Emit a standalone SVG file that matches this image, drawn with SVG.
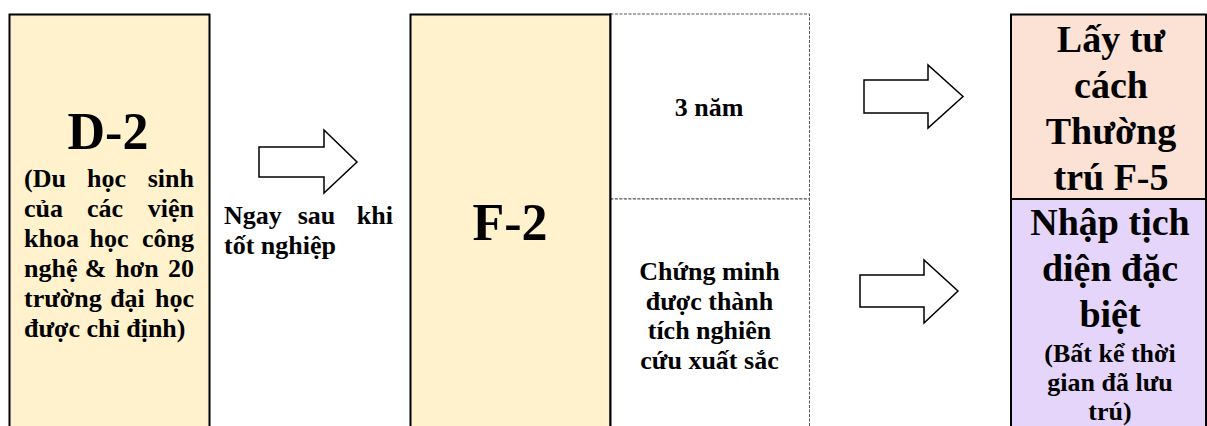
<svg xmlns="http://www.w3.org/2000/svg" width="1207" height="426" viewBox="0 0 1207 426">
<style>
text{font-family:"Liberation Serif","Times New Roman",serif;font-weight:bold;fill:#000}
.big{font-size:52px}
.mid{font-size:38px}
.sm{font-size:26px}
.c{text-anchor:middle}
.e{text-anchor:end}
.box{stroke:#000;stroke-width:2}
.dash{fill:#fff;stroke:#555;stroke-width:1;stroke-dasharray:3 1.5}
.arrow{fill:#fff;stroke:#000;stroke-width:1.5;stroke-linejoin:miter}
</style>
<rect width="1207" height="426" fill="#fff"/>
<g id="node-d2">
<rect class="box" x="9.5" y="14.5" width="200" height="430" fill="#FFF2CC"/>
<text class="big c" x="108" y="149">D-2</text>
<text class="sm" y="187"><tspan x="24">(Du</tspan><tspan class="c" x="106.5">học</tspan><tspan class="e" x="194">sinh</tspan></text>
<text class="sm" y="217"><tspan x="24">của</tspan><tspan class="c" x="105">các</tspan><tspan class="e" x="194">viện</tspan></text>
<text class="sm" y="247"><tspan x="24">khoa</tspan><tspan class="c" x="109">học</tspan><tspan class="e" x="194">công</tspan></text>
<text class="sm" y="277"><tspan x="24">nghệ</tspan><tspan class="c" x="95.5">&amp;</tspan><tspan class="c" x="137">hơn</tspan><tspan class="e" x="194">20</tspan></text>
<text class="sm" y="307"><tspan x="24">trường</tspan><tspan class="c" x="127.5">đại</tspan><tspan class="e" x="194">học</tspan></text>
<text class="sm" x="24" y="337">được chỉ định)</text>
</g>
<g id="label-graduation">
<text class="sm" y="224"><tspan x="224">Ngay</tspan><tspan class="c" x="316.5">sau</tspan><tspan class="e" x="393">khi</tspan></text>
<text class="sm" x="224" y="254">tốt nghiệp</text>
</g>
<g id="node-f2">
<rect class="box" x="410.5" y="14.5" width="200" height="430" fill="#FFF2CC"/>
<text class="big c" x="510" y="240">F-2</text>
</g>
<g id="node-3years">
<rect class="dash" x="610.5" y="14" width="199" height="185"/>
<text class="sm c" x="709" y="116">3 năm</text>
</g>
<g id="node-research">
<rect class="dash" x="610.5" y="199" width="199" height="250"/>
<text class="sm c" x="709.5" y="280">Chứng minh</text>
<text class="sm c" x="709.5" y="310">được thành</text>
<text class="sm c" x="709.5" y="339">tích nghiên</text>
<text class="sm c" x="709.5" y="369">cứu xuất sắc</text>
</g>
<g id="node-f2-border">
<line class="box" x1="610.5" y1="13.5" x2="610.5" y2="426"/>
</g>
<g id="node-f5">
<rect class="box" x="1011" y="14.5" width="195" height="184.5" fill="#FBE2D5"/>
<text class="mid c" x="1111" y="52">Lấy tư</text>
<text class="mid c" x="1111" y="98">cách</text>
<text class="mid c" x="1111" y="144">Thường</text>
<text class="mid c" x="1111" y="190">trú F-5</text>
</g>
<g id="node-naturalization">
<rect class="box" x="1011" y="199" width="195" height="250" fill="#E6D5FA"/>
<text class="mid c" x="1110" y="235">Nhập tịch</text>
<text class="mid c" x="1110" y="281">diện đặc</text>
<text class="mid c" x="1110" y="327">biệt</text>
<text class="sm c" x="1110" y="362">(Bất kể thời</text>
<text class="sm c" x="1110" y="391">gian đã lưu</text>
<text class="sm c" x="1110" y="420">trú)</text>
</g>
<g id="connectors">
<polygon class="arrow" points="259,147 324,147 324,130 357,162 324,193 324,177 259,177"/>
<polygon class="arrow" points="864,80 928,80 928,65 963,96.5 928,128 928,113 864,113"/>
<polygon class="arrow" points="860,275 924,275 924,260 958,291 924,323 924,307 860,307"/>
</g>
</svg>
